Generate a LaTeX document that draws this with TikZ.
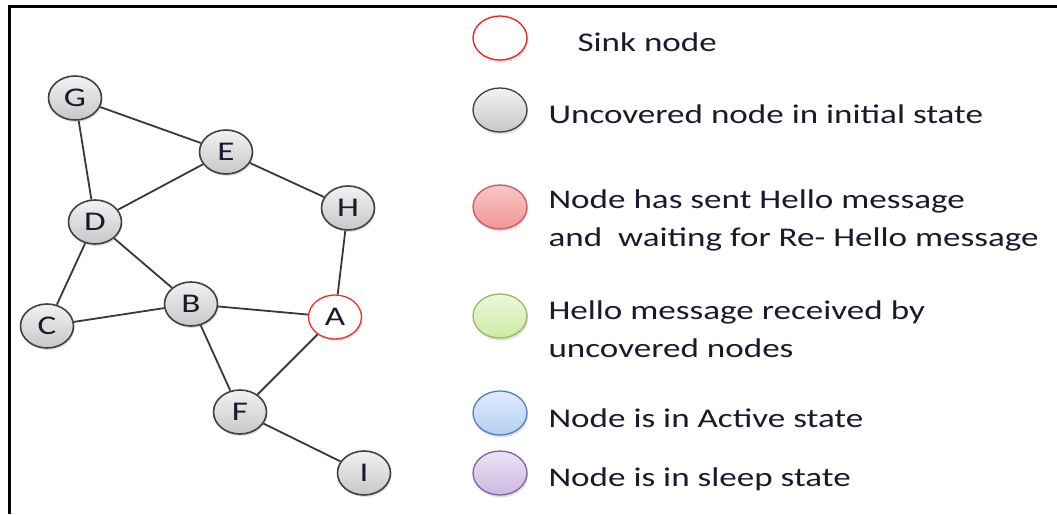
\documentclass[tikz,border=0pt]{standalone}
\usepackage{fontspec}
\setmainfont{Carlito}[FakeStretch=1.3]
\usetikzlibrary{shadows,shapes.geometric}
\definecolor{txt}{HTML}{1A1A2E}
\tikzset{
  x=1pt, y=-1pt,
  gnode/.style={ellipse, minimum width=53pt, minimum height=44pt, inner sep=0pt,
    draw=black!75, line width=1.6pt, top color=white!95!black, bottom color=black!22,
    drop shadow={shadow xshift=1pt, shadow yshift=-2pt, opacity=0.25},
    font=\fontsize{27}{27}\selectfont, text=txt},
  sink/.style={gnode, draw=red!85, line width=1.3pt, top color=white, bottom color=white},
  legitem/.style={ellipse, minimum width=54pt, minimum height=44pt, inner sep=0pt, line width=1.3pt,
    drop shadow={shadow xshift=1pt, shadow yshift=-2.5pt, opacity=0.25}},
  legtext/.style={anchor=west, align=left, text=txt, font=\fontsize{27}{38}\selectfont},
  edge/.style={draw=black!78, line width=1.8pt},
}
\begin{document}
\begin{tikzpicture}
\useasboundingbox (0,0) rectangle (1057,514);
\draw[line width=3pt] (9,514) -- (9,6.5) -- (1057,6.5);
% graph nodes
\node[gnode] (G) at (75,98) {G};
\node[gnode] (E) at (226,152) {E};
\node[gnode] (D) at (95,222) {D};
\node[gnode] (H) at (348,208) {H};
\node[gnode] (C) at (47,326) {C};
\node[gnode] (B) at (191,304) {B};
\node[sink]  (A) at (335,317) {A};
\node[gnode] (F) at (240,412) {F};
\node[gnode] (I) at (364,473) {I};
\draw[edge] (G) -- (E);
\draw[edge] (G) -- (D);
\draw[edge] (E) -- (D);
\draw[edge] (E) -- (H);
\draw[edge] (D) -- (C);
\draw[edge] (D) -- (B);
\draw[edge] (C) -- (B);
\draw[edge] (B) -- (A);
\draw[edge] (B) -- (F);
\draw[edge] (H) -- (A);
\draw[edge] (A) -- (F);
\draw[edge] (F) -- (I);
% legend
\node[legitem, draw=red!90, top color=white, bottom color=white] (L1) at (500,38) {};
\node[legitem, draw=black!75, top color=white!95!black, bottom color=black!22] (L2) at (500,110) {};
\node[legitem, draw={rgb,255:red,200;green,90;blue,90}, top color={rgb,255:red,250;green,200;blue,200}, bottom color={rgb,255:red,240;green,150;blue,150}] (L3) at (500,207) {};
\node[legitem, draw={rgb,255:red,155;green,187;blue,89}, top color={rgb,255:red,236;green,248;blue,220}, bottom color={rgb,255:red,205;green,235;blue,165}] (L4) at (500,316) {};
\node[legitem, draw={rgb,255:red,79;green,129;blue,189}, top color={rgb,255:red,225;green,236;blue,252}, bottom color={rgb,255:red,180;green,206;blue,242}] (L5) at (500,413) {};
\node[legitem, draw={rgb,255:red,128;green,100;blue,162}, top color={rgb,255:red,236;green,226;blue,244}, bottom color={rgb,255:red,205;green,185;blue,225}] (L6) at (500,473) {};
\node[legtext] (T1) at (574,42) {Sink node};
\node[legtext] (T2) at (545,114) {Uncovered node in initial state};
\node[legtext] (T3) at (545,220) {Node has sent Hello message\\and\ \ waiting for Re- Hello message};
\node[legtext] (T4) at (545,329) {Hello message received by\\uncovered nodes};
\node[legtext] (T5) at (545,418) {Node is in Active state};
\node[legtext] (T6) at (545,479) {Node is in sleep state};
\end{tikzpicture}
\end{document}
